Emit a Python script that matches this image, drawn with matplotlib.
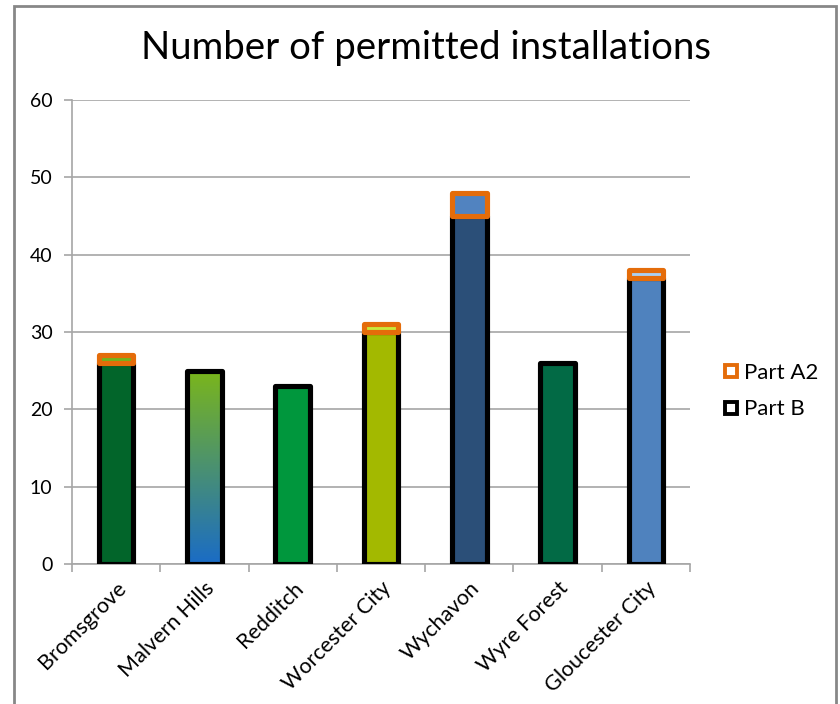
"""Number of permitted installations - stacked bar chart."""
import numpy as np
import matplotlib
matplotlib.use("Agg")
import matplotlib.pyplot as plt
from matplotlib.patches import Rectangle
from matplotlib.lines import Line2D
from matplotlib.colors import LinearSegmentedColormap

plt.rcParams['font.family'] = ['Lato', 'DejaVu Sans']

districts = ["Bromsgrove", "Malvern Hills", "Redditch", "Worcester City",
             "Wychavon", "Wyre Forest", "Gloucester City"]
part_b = [26, 25, 23, 30, 45, 26, 37]
part_a2 = [1, 0, 0, 1, 3, 0, 1]
b_colors = ["#02652a", None, "#00973d", "#a3b900", "#2b4f78", "#026a45", "#4f82be"]
a2_colors = ["#72b41e", None, None, "#c8e83a", "#5183c0", None, "#a9d0f2"]
gradient = ["#1a6cc6", "#7bb61b"]   # Malvern Hills: bottom -> top
orange = "#e46c0a"

fig = plt.figure(figsize=(8.4, 7.04), dpi=100)
ax = fig.add_axes([72/840, 1 - 564/704, (690-72)/840, (564-100)/704])

x = np.arange(len(districts))
w = 0.39
lw = 3.7

bars = ax.bar(x, part_b, width=w, color=[c or "none" for c in b_colors],
              edgecolor="black", linewidth=lw, zorder=3)
for b in bars:
    b.set_joinstyle("round")

# gradient fill for Malvern Hills
cmap = LinearSegmentedColormap.from_list("mh", gradient)
for i, c in enumerate(b_colors):
    if c is None:
        grad = np.linspace(0, 1, 256).reshape(-1, 1)
        im = ax.imshow(grad, cmap=cmap, origin="lower", aspect="auto",
                       extent=[x[i] - w/2, x[i] + w/2, 0, part_b[i]], zorder=2.5)
        im.set_clip_path(bars[i])

for i, v in enumerate(part_a2):
    if v > 0:
        r = ax.bar(x[i], v, bottom=part_b[i], width=w, color=a2_colors[i],
                   edgecolor=orange, linewidth=lw, zorder=4)
        r[0].set_joinstyle("round")

ax.set_xlim(-0.5, len(districts) - 0.5)
ax.set_ylim(0, 60)
ax.set_yticks(range(0, 61, 10))
ax.yaxis.grid(True, color="#a6a6a6", linewidth=1.2, zorder=0)
ax.set_axisbelow(True)

for s in ["top", "right"]:
    ax.spines[s].set_visible(False)
for s in ["left", "bottom"]:
    ax.spines[s].set_color("#a6a6a6")
    ax.spines[s].set_linewidth(1.2)

ax.tick_params(axis="y", length=6, width=1.2, color="#a6a6a6", pad=8, labelsize=14)
ax.set_xticks(x)
ax.set_xticklabels(districts, rotation=45, ha="right", rotation_mode="anchor", fontsize=15.5)
ax.tick_params(axis="x", length=0, pad=10)
ax.set_xticks(np.arange(-0.5, len(districts)), minor=True)
ax.tick_params(axis="x", which="minor", length=6, width=1.2, color="#a6a6a6")

fig.text(426/840, 1 - 48/704, "Number of permitted installations",
         ha="center", va="center", fontsize=27.6)

handles = [Line2D([], [], marker="s", linestyle="none", markersize=9,
                  markerfacecolor="white", markeredgecolor=orange, markeredgewidth=2.8),
           Line2D([], [], marker="s", linestyle="none", markersize=9,
                  markerfacecolor="white", markeredgecolor="black", markeredgewidth=2.8)]
fig.legend(handles, ["Part A2", "Part B"], loc="center left",
           bbox_to_anchor=(703/840, 1 - 391/704), frameon=False, fontsize=16,
           handlelength=0.7, handletextpad=0.25, labelspacing=0.75)

fig.add_artist(Rectangle((14/840, -0.05), (836-14)/840, 1.05 - 6/704,
                         transform=fig.transFigure, fill=False,
                         edgecolor="#878787", linewidth=2))

fig.savefig("out.png", dpi=100)
